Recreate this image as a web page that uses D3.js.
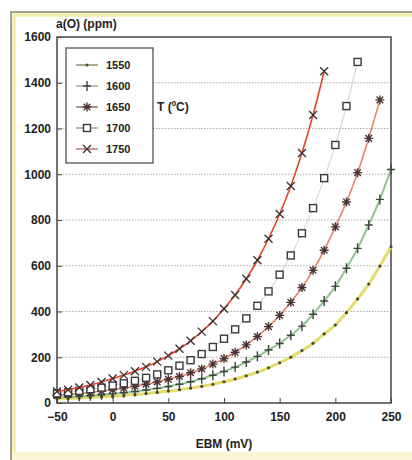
<!DOCTYPE html>
<html>
<head>
<meta charset="utf-8">
<script src="https://cdn.jsdelivr.net/npm/d3@7.9.0/dist/d3.min.js"></script>
<style>
  html, body { margin: 0; padding: 0; background: #fff; }
  svg { display: block; font-family: "Liberation Sans", Arial, sans-serif; }
  .tick text { font-weight: bold; font-size: 12px; fill: #222; }
</style>
</head>
<body>
<svg width="412" height="460"></svg>
<script>
// EMF values (mV), one point every 10 mV
const emf = [-50, -40, -30, -20, -10, 0, 10, 20, 30, 40, 50, 60, 70, 80, 90, 100,
  110, 120, 130, 140, 150, 160, 170, 180, 190, 200, 210, 220, 230, 240, 250];

const temps = ["1550", "1600", "1650", "1700", "1750"];

// a(O) in ppm
const o1550 = [18, 20, 22, 25, 27, 30, 33, 37, 41, 46, 52, 58, 65, 73, 82, 93,
  105, 119, 135, 154, 176, 200, 229, 261, 302, 341, 395, 455, 520, 599, 683];
const o1600 = [23, 26, 29, 32, 36, 40, 45, 50, 57, 64, 72, 82, 93, 106, 121, 138,
  157, 179, 204, 232, 260, 296, 336, 388, 446, 510, 589, 676, 778, 890, 1021];
const o1650 = [33, 37, 41, 46, 52, 58, 65, 73, 82, 92, 104, 116, 132, 149, 170, 194,
  222, 254, 291, 334, 383, 440, 505, 580, 668, 770, 879, 1007, 1157, 1325];
const o1700 = [42, 47, 53, 60, 67, 76, 86, 97, 110, 125, 143, 163, 187, 214, 245, 281,
  322, 370, 425, 488, 561, 645, 742, 852, 983, 1128, 1298, 1491];
const o1750 = [50, 58, 68, 79, 92, 107, 122, 139, 158, 181, 207, 237, 272, 312, 358, 412,
  472, 543, 624, 718, 826, 949, 1093, 1259, 1450];

const xTicks = [-50, 0, 50, 100, 150, 200, 250];
const yTicks = [0, 200, 400, 600, 800, 1000, 1200, 1400, 1600];

const series = [
  { name: temps[0], values: o1550, color: "#e6dc6a", width: 3, legendColor: "#8a8a60", marker: "dot" },
  { name: temps[1], values: o1600, color: "#8fc48f", width: 2, legendColor: "#9aaa9a", marker: "plus" },
  { name: temps[2], values: o1650, color: "#e48466", width: 1.6, legendColor: "#8a6a60", marker: "star" },
  { name: temps[3], values: o1700, color: "#cfcfcf", width: 1, legendColor: "#999", marker: "square" },
  { name: temps[4], values: o1750, color: "#e5452c", width: 1.6, legendColor: "#b07070", marker: "cross" }
];

const svg = d3.select("svg");

// scanned page frame
svg.append("rect").attr("x", 11).attr("y", 12).attr("width", 420).attr("height", 460)
  .attr("fill", "#fffef8").attr("stroke", "#8c8a80").attr("stroke-width", 1.6);
svg.append("rect").attr("x", 14).attr("y", 15).attr("width", 420).attr("height", 460)
  .attr("fill", "none").attr("stroke", "#f4eda8").attr("stroke-width", 3.5);
svg.append("rect").attr("x", 12).attr("y", 452).attr("width", 400).attr("height", 8)
  .attr("fill", "#fbf6d6");
svg.append("rect").attr("x", 16).attr("y", 18).attr("width", 396).attr("height", 432)
  .attr("fill", "#fff");

const x = d3.scaleLinear().domain([-50, 250]).range([57, 391]);
const y = d3.scaleLinear().domain([0, 1600]).range([403, 37]);

// dotted grid lines
svg.append("g")
  .selectAll("line")
  .data(yTicks.slice(1, -1))
  .join("line")
  .attr("x1", x(-50)).attr("x2", x(250))
  .attr("y1", d => y(d)).attr("y2", d => y(d))
  .attr("stroke", "#aaa").attr("stroke-width", 1)
  .attr("stroke-dasharray", "1.5,1.5");

// axes with inward ticks
const xAxis = svg.append("g")
  .attr("transform", `translate(0,${y(0)})`)
  .call(d3.axisBottom(x).tickValues(xTicks).tickFormat(d3.format("d")).tickSize(-5).tickPadding(9));
const yAxis = svg.append("g")
  .attr("transform", `translate(${x(-50)},0)`)
  .call(d3.axisLeft(y).tickValues(yTicks).tickFormat(d3.format("d")).tickSize(-5).tickPadding(6));
[xAxis, yAxis].forEach(g => {
  g.select(".domain").remove();
  g.selectAll(".tick line").attr("stroke", "#444");
});

// plot frame
svg.append("rect")
  .attr("x", x(-50)).attr("y", y(1600))
  .attr("width", x(250) - x(-50)).attr("height", y(0) - y(1600))
  .attr("fill", "none").attr("stroke", "#444").attr("stroke-width", 1.5);

const line = d3.line()
  .x((d, i) => x(emf[i]))
  .y(d => y(d))
  .curve(d3.curveMonotoneX);

function drawMarker(g, type, cx, cy) {
  if (type === "dot") {
    g.append("circle").attr("cx", cx).attr("cy", cy).attr("r", 1.6).attr("fill", "#4a4a3a");
  } else if (type === "plus") {
    g.append("path").attr("d", `M${cx - 4},${cy}H${cx + 4}M${cx},${cy - 5}V${cy + 5}`)
      .attr("stroke", "#3c443c").attr("stroke-width", 1.4);
  } else if (type === "star") {
    g.append("path")
      .attr("d", `M${cx - 4.5},${cy}H${cx + 4.5}M${cx},${cy - 4.5}V${cy + 4.5}` +
        `M${cx - 3.3},${cy - 3.3}L${cx + 3.3},${cy + 3.3}M${cx - 3.3},${cy + 3.3}L${cx + 3.3},${cy - 3.3}`)
      .attr("stroke", "#4a3434").attr("stroke-width", 1.4);
  } else if (type === "square") {
    g.append("rect").attr("x", cx - 3.5).attr("y", cy - 3.5).attr("width", 7).attr("height", 7)
      .attr("fill", "#fff").attr("stroke", "#3a3a3a").attr("stroke-width", 1.4);
  } else if (type === "cross") {
    g.append("path").attr("d", `M${cx - 4},${cy - 4}L${cx + 4},${cy + 4}M${cx - 4},${cy + 4}L${cx + 4},${cy - 4}`)
      .attr("stroke", "#3a3030").attr("stroke-width", 1.3);
  }
}

series.forEach(s => {
  svg.append("path")
    .datum(s.values)
    .attr("d", line)
    .attr("fill", "none")
    .attr("stroke", s.color)
    .attr("stroke-width", s.width);
  const mg = svg.append("g");
  s.values.forEach((v, i) => drawMarker(mg, s.marker, x(emf[i]), y(v)));
});

// legend
const legend = svg.append("g");
legend.append("rect").attr("x", 66).attr("y", 48).attr("width", 87).attr("height", 115)
  .attr("fill", "#fff").attr("stroke", "#444").attr("stroke-width", 1.2);
series.forEach((s, i) => {
  const ly = 65 + i * 21;
  legend.append("line").attr("x1", 76).attr("x2", 98).attr("y1", ly).attr("y2", ly)
    .attr("stroke", s.legendColor).attr("stroke-width", 1.4);
  drawMarker(legend, s.marker, 87, ly);
  legend.append("text").attr("x", 106).attr("y", ly).attr("dy", "0.35em")
    .attr("font-size", 11).attr("font-weight", "bold").attr("fill", "#222").text(s.name);
});
svg.append("text").attr("x", 157).attr("y", 107).attr("dy", "0.35em")
  .attr("font-size", 12).attr("font-weight", "bold").attr("fill", "#222").text("T (ºC)");

// axis titles
svg.append("text").attr("x", 56).attr("y", 28)
  .attr("font-size", 12).attr("font-weight", "bold").attr("fill", "#222").text("a(O) (ppm)");
svg.append("text").attr("x", 224).attr("y", 448).attr("text-anchor", "middle")
  .attr("font-size", 12).attr("font-weight", "bold").attr("fill", "#222").text("EBM (mV)");
</script>
</body>
</html>
